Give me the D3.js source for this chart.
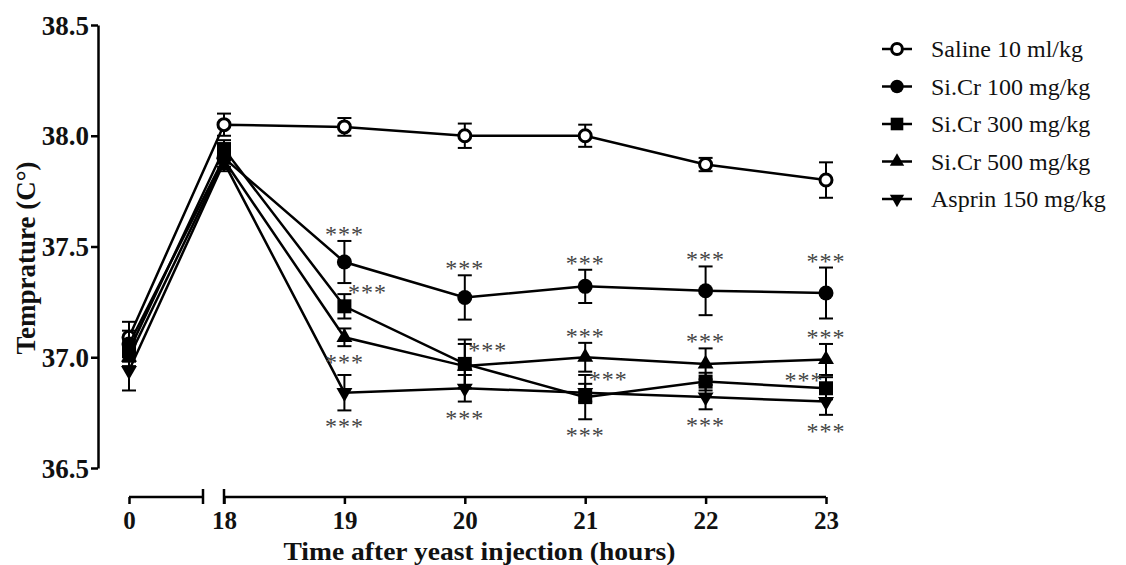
<!DOCTYPE html>
<html>
<head>
<meta charset="utf-8">
<script src="https://cdn.jsdelivr.net/npm/d3@7"></script>
<style>
  body { margin: 0; background: #fff; }
  svg { display: block; }
  text { font-family: "Liberation Serif", "Times New Roman", serif; }
</style>
</head>
<body>
<svg id="chart" width="1126" height="565"></svg>
<script>
// time points (hours after yeast injection)
var times = [0, 18, 19, 20, 21, 22, 23]

var seriesNames = ['Saline 10 ml/kg', 'Si.Cr 100 mg/kg', 'Si.Cr 300 mg/kg', 'Si.Cr 500 mg/kg', 'Asprin 150 mg/kg']

var saline = [37.09, 38.05, 38.04, 38.00, 38.00, 37.87, 37.80]
var salineErr = [0.07, 0.05, 0.04, 0.055, 0.05, 0.03, 0.08]
var sicr100 = [37.06, 37.90, 37.43, 37.27, 37.32, 37.30, 37.29]
var sicr100Err = [0.06, 0.04, 0.095, 0.10, 0.075, 0.11, 0.115]
var sicr300 = [37.03, 37.94, 37.23, 36.97, 36.82, 36.89, 36.86]
var sicr300Err = [0.05, 0.04, 0.055, 0.11, 0.10, 0.04, 0.05]
var sicr500 = [37.00, 37.89, 37.09, 36.96, 37.00, 36.97, 36.99]
var sicr500Err = [0.04, 0.04, 0.04, 0.10, 0.065, 0.07, 0.07]
var aspirin = [36.94, 37.88, 36.84, 36.86, 36.84, 36.82, 36.80]
var aspirinErr = [0.09, 0.04, 0.08, 0.06, 0.04, 0.055, 0.06]

var yTicks = [36.5, 37.0, 37.5, 38.0, 38.5]

// significance marks: [series index, time, placement]
var stars = [
  [1, 19, 'above'], [2, 19, 'right'], [3, 19, 'below'], [4, 19, 'below'],
  [1, 20, 'above'], [2, 20, 'right'], [4, 20, 'below'],
  [1, 21, 'above'], [3, 21, 'above'], [4, 21, 'right'], [2, 21, 'below'],
  [1, 22, 'above'], [3, 22, 'above'], [4, 22, 'below'],
  [1, 23, 'above'], [3, 23, 'above'], [2, 23, 'left'], [4, 23, 'below']
]

var allMeans = [saline, sicr100, sicr300, sicr500, aspirin]
var allErrs = [salineErr, sicr100Err, sicr300Err, sicr500Err, aspirinErr]
var symbols = ['openCircle', 'circle', 'square', 'triangle', 'triangleDown']

var svg = d3.select('#chart')

// x is split: 0 .. break, then 18 .. 23
var x = d3.scaleLinear().domain([0, 18, 23]).range([129, 224, 826])
var y = d3.scaleLinear().domain([36.5, 38.5]).range([468, 25])
var axisY = 497
var breakEnd = 203

// y axis
var yAxis = svg.append('g')
  .attr('transform', 'translate(98,0)')
  .call(d3.axisLeft(y).tickValues(yTicks).tickFormat(d3.format('.1f')).tickSize(7).tickSizeOuter(0).tickPadding(2))
yAxis.select('.domain').attr('stroke', '#000').attr('stroke-width', 2.5)
yAxis.selectAll('.tick line').attr('stroke', '#000').attr('stroke-width', 2.5)
yAxis.selectAll('.tick text')
  .attr('font-family', 'Liberation Serif').attr('font-weight', 'bold').attr('font-size', 27).attr('fill', '#111')
  .attr('dy', '0.34em')

// x axis
var xAxis = svg.append('g')
  .attr('transform', 'translate(0,' + axisY + ')')
  .call(d3.axisBottom(x).tickValues(times).tickSize(7).tickSizeOuter(0))
xAxis.select('.domain').remove()
xAxis.selectAll('.tick line').attr('stroke', '#000').attr('stroke-width', 2.5)
xAxis.selectAll('.tick text')
  .attr('font-family', 'Liberation Serif').attr('font-weight', 'bold').attr('font-size', 25).attr('fill', '#111')
  .attr('y', 32).attr('dy', null)

var axisSegs = [[x(0), breakEnd], [x(18), x(23)]]
xAxis.selectAll('line.seg').data(axisSegs).enter().append('line')
  .attr('class', 'seg')
  .attr('x1', d => d[0]).attr('x2', d => d[1])
  .attr('y1', 0).attr('y2', 0)
  .attr('stroke', '#000').attr('stroke-width', 2.5)
// break end ticks
xAxis.selectAll('line.brk').data([breakEnd, x(18)]).enter().append('line')
  .attr('class', 'brk')
  .attr('x1', d => d).attr('x2', d => d)
  .attr('y1', -8).attr('y2', 7)
  .attr('stroke', '#000').attr('stroke-width', 2.5)

// axis titles
svg.append('text')
  .attr('x', (x(0) + x(23)) / 2 + 2).attr('y', 560)
  .attr('text-anchor', 'middle')
  .attr('font-weight', 'bold').attr('font-size', 25).attr('fill', '#111')
  .attr('textLength', 392).attr('lengthAdjust', 'spacingAndGlyphs')
  .text('Time after yeast injection (hours)')

svg.append('text')
  .attr('transform', 'translate(35,258) rotate(-90)')
  .attr('text-anchor', 'middle')
  .attr('font-weight', 'bold').attr('font-size', 27).attr('fill', '#111')
  .text('Temprature (C°)')

var drawMarker = function (g, kind, cx, cy, scale) {
  scale = scale || 1
  if (kind === 'openCircle') {
    g.append('circle').attr('cx', cx).attr('cy', cy).attr('r', 6 * scale)
      .attr('fill', '#fff').attr('stroke', '#000').attr('stroke-width', 3)
  } else if (kind === 'circle') {
    g.append('circle').attr('cx', cx).attr('cy', cy).attr('r', 7.5 * scale).attr('fill', '#000')
  } else if (kind === 'square') {
    g.append('path').attr('d', d3.symbol(d3.symbolSquare, 196 * scale * scale)())
      .attr('transform', 'translate(' + cx + ',' + cy + ')').attr('fill', '#000')
  } else if (kind === 'triangle') {
    g.append('path').attr('d', d3.symbol(d3.symbolTriangle, 110 * scale * scale)())
      .attr('transform', 'translate(' + cx + ',' + cy + ')').attr('fill', '#000')
  } else {
    g.append('path').attr('d', d3.symbol(d3.symbolTriangle, 110 * scale * scale)())
      .attr('transform', 'translate(' + cx + ',' + cy + ') rotate(180)').attr('fill', '#000')
  }
}

var line = d3.line().x(d => x(d[0])).y(d => y(d[1]))

allMeans.forEach((means, s) => {
  var g = svg.append('g').attr('class', 'series')
  var pts = times.map((t, i) => [t, means[i], allErrs[s][i]])

  // error bars
  pts.forEach(p => {
    var cx = x(p[0])
    var top = y(p[1] + p[2])
    var bot = y(p[1] - p[2])
    g.append('line').attr('x1', cx).attr('x2', cx).attr('y1', top).attr('y2', bot)
      .attr('stroke', '#000').attr('stroke-width', 2)
    g.selectAll(null).data([top, bot]).enter().append('line')
      .attr('x1', cx - 7).attr('x2', cx + 7).attr('y1', d => d).attr('y2', d => d)
      .attr('stroke', '#000').attr('stroke-width', 2)
  })

  g.append('path').datum(pts).attr('d', line)
    .attr('fill', 'none').attr('stroke', '#000').attr('stroke-width', 2.5)

  pts.forEach(p => drawMarker(g, symbols[s], x(p[0]), y(p[1])))
})

// significance asterisks
var starPos = function (d) {
  var s = d[0]
  var i = times.indexOf(d[1])
  var m = allMeans[s][i]
  var e = allErrs[s][i]
  var cx = x(d[1])
  if (d[2] === 'above') return [cx, y(m + e) - 10]
  if (d[2] === 'below') return [cx, y(m - e) + 13]
  if (d[2] === 'right') return [cx + 23, y(m) - 17]
  return [cx - 22, y(m) - 11]
}

svg.append('g').selectAll('text').data(stars).enter().append('text')
  .attr('x', d => starPos(d)[0])
  .attr('y', d => starPos(d)[1] + 11)
  .attr('text-anchor', 'middle')
  .attr('font-size', 24)
  .attr('letter-spacing', 1)
  .attr('fill', '#444')
  .text('***')

// legend
var legend = svg.append('g').attr('transform', 'translate(882,49)')
seriesNames.forEach((name, i) => {
  var row = legend.append('g').attr('transform', 'translate(0,' + (i * 37.5) + ')')
  row.append('line').attr('x1', 0).attr('x2', 30).attr('y1', 0).attr('y2', 0)
    .attr('stroke', '#000').attr('stroke-width', 2.5)
  drawMarker(row, symbols[i], 15, 0, 0.9)
  row.append('text').attr('x', 49).attr('y', 8)
    .attr('font-size', 24).attr('fill', '#111')
    .text(name)
})
</script>
</body>
</html>
